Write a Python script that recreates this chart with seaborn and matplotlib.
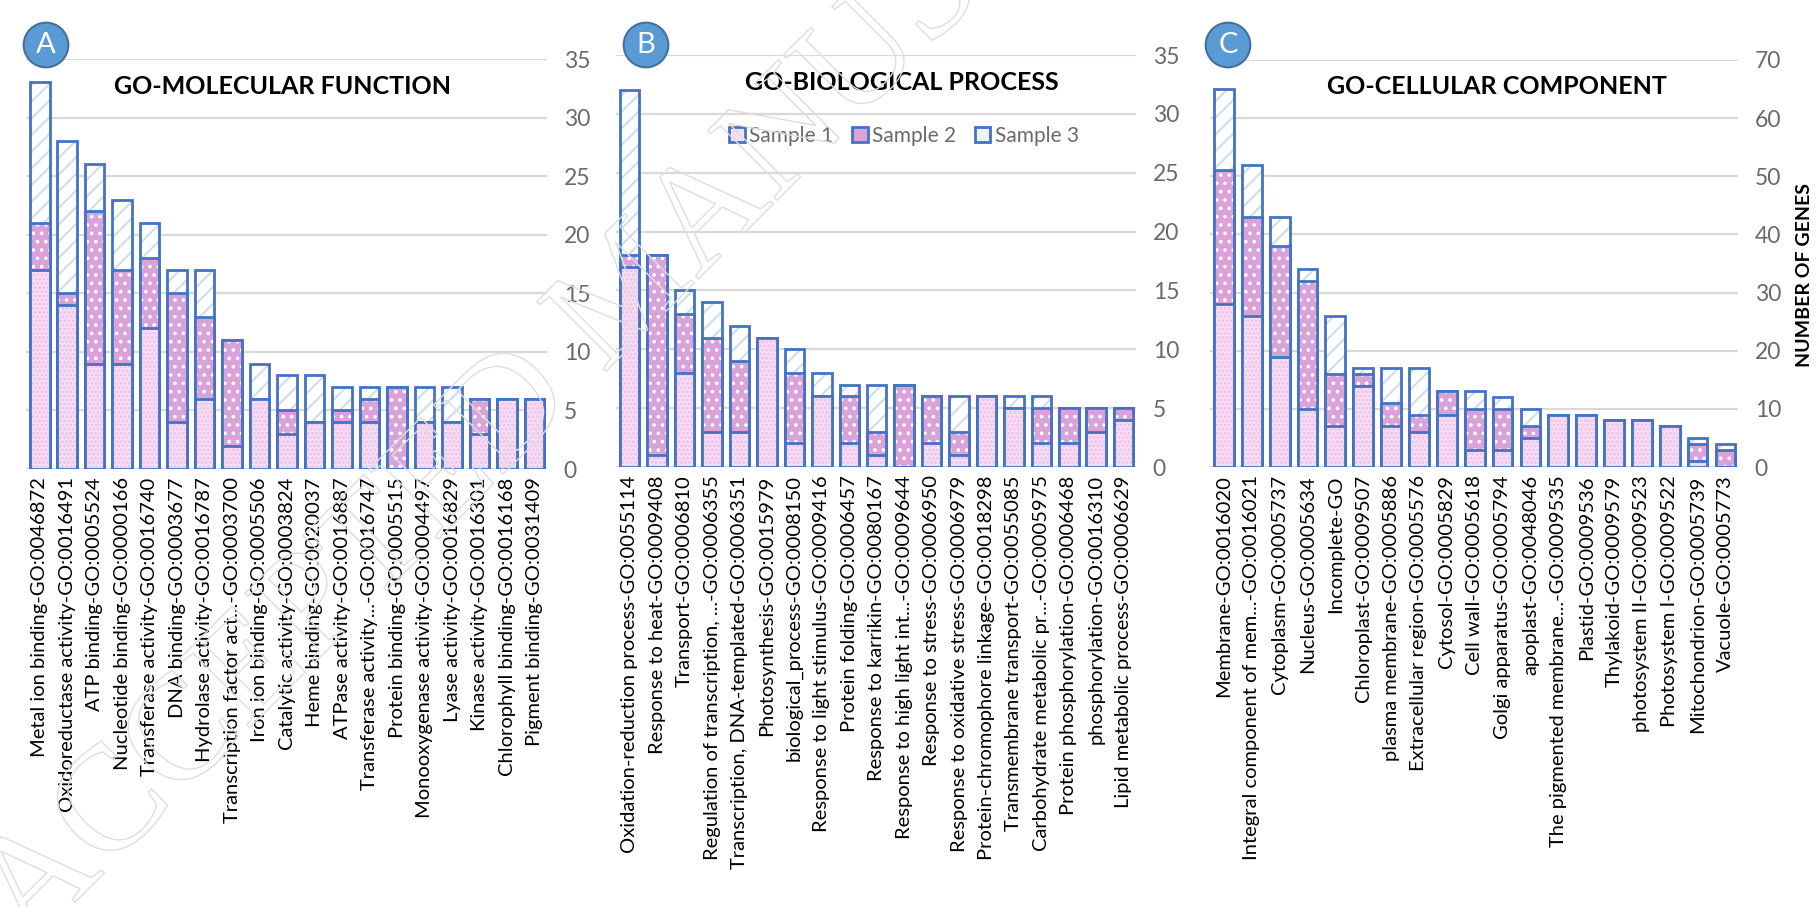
import numpy as np
import pandas as pd
import matplotlib
matplotlib.use("Agg")
import matplotlib.pyplot as plt
import seaborn as sns
from matplotlib.patches import Patch
from matplotlib import patheffects as pe

# ---------------- data ----------------
mf_terms = ["Metal ion binding-GO:0046872", "Oxidoreductase activity-GO:0016491",
            "ATP binding-GO:0005524", "Nucleotide binding-GO:0000166",
            "Transferase activity-GO:0016740", "DNA binding-GO:0003677",
            "Hydrolase activity-GO:0016787", "Transcription factor act...-GO:0003700",
            "Iron ion binding-GO:0005506", "Catalytic activity-GO:0003824",
            "Heme binding-GO:0020037", "ATPase activity-GO:0016887",
            "Transferase activity...-GO:0016747", "Protein binding-GO:0005515",
            "Monooxygenase activity-GO:0004497", "Lyase activity-GO:0016829",
            "Kinase activity-GO:0016301", "Chlorophyll binding-GO:0016168",
            "Pigment binding-GO:0031409"]
mf_s1 = [17, 14, 9, 9, 12, 4, 6, 2, 6, 3, 4, 4, 4, 0, 4, 4, 3, 6, 6]
mf_s2 = [4, 1, 13, 8, 6, 11, 7, 9, 0, 2, 0, 1, 2, 7, 0, 0, 3, 0, 0]
mf_s3 = [12, 13, 4, 6, 3, 2, 4, 0, 3, 3, 4, 2, 1, 0, 3, 3, 0, 0, 0]

bp_terms = ["Oxidation-reduction process-GO:0055114", "Response to heat-GO:0009408",
            "Transport-GO:0006810", "Regulation of transcription, ...-GO:0006355",
            "Transcription, DNA-templated-GO:0006351", "Photosynthesis-GO:0015979",
            "biological_process-GO:0008150", "Response to light stimulus-GO:0009416",
            "Protein folding-GO:0006457", "Response to karrikin-GO:0080167",
            "Response to high light int...-GO:0009644", "Response to stress-GO:0006950",
            "Response to oxidative stress-GO:0006979", "Protein-chromophore linkage-GO:0018298",
            "Transmembrane transport-GO:0055085", "Carbohydrate metabolic pr...-GO:0005975",
            "Protein phosphorylation-GO:0006468", "phosphorylation-GO:0016310",
            "Lipid metabolic process-GO:0006629"]
bp_s1 = [17, 1, 8, 3, 3, 11, 2, 6, 2, 1, 0, 2, 1, 6, 5, 2, 2, 3, 4]
bp_s2 = [1, 17, 5, 8, 6, 0, 6, 0, 4, 2, 7, 4, 2, 0, 0, 3, 3, 2, 1]
bp_s3 = [14, 0, 2, 3, 3, 0, 2, 2, 1, 4, 0, 0, 3, 0, 1, 1, 0, 0, 0]

cc_terms = ["Membrane-GO:0016020", "Integral component of mem...-GO:0016021",
            "Cytoplasm-GO:0005737", "Nucleus-GO:0005634", "Incomplete-GO",
            "Chloroplast-GO:0009507", "plasma membrane-GO:0005886",
            "Extracellular region-GO:0005576", "Cytosol-GO:0005829",
            "Cell wall-GO:0005618", "Golgi apparatus-GO:0005794",
            "apoplast-GO:0048046", "The pigmented membrane...-GO:0009535",
            "Plastid-GO:0009536", "Thylakoid-GO:0009579", "photosystem II-GO:0009523",
            "Photosystem I-GO:0009522", "Mitochondrion-GO:0005739", "Vacuole-GO:0005773"]
cc_s1 = [28, 26, 19, 10, 7, 14, 7, 6, 9, 3, 3, 5, 9, 9, 8, 8, 7, 1, 0]
cc_s2 = [23, 17, 19, 22, 9, 2, 4, 3, 4, 7, 7, 2, 0, 0, 0, 0, 0, 3, 3]
cc_s3 = [14, 9, 5, 2, 10, 1, 6, 8, 0, 3, 2, 3, 0, 0, 0, 0, 0, 1, 1]

series_names = ["Sample 1", "Sample 2", "Sample 3"]

# ---------------- style ----------------
EDGE = "#4472C4"
S1_FILL, S1_DOT = "#F8DDF5", "#EBC2E8"
S2_FILL, S2_DOT = "#D9A3DA", "#FFFFFF"
S3_FILL, S3_LINE = "#FFFFFF", "#C9DDF1"
GRID = "#D9D9D9"
TICK_GRAY = "#6A6A6A"

sns.set_theme(style="white")
plt.rcParams["font.family"] = ["Lato", "DejaVu Sans"]
plt.rcParams["hatch.linewidth"] = 1.4

fig = plt.figure(figsize=(18.18, 9.07), dpi=100)
W, H = 1818.0, 907.0


def add_axes_px(x0, x1, y_top, y_bottom):
    return fig.add_axes([x0 / W, 1 - y_bottom / H, (x1 - x0) / W, (y_bottom - y_top) / H])


def stacked_panel(ax, terms, s1, s2, s3, ymax, ystep):
    s1, s2, s3 = map(np.asarray, (s1, s2, s3))
    layers = [
        (s1 + s2 + s3, S3_FILL, S3_LINE, "//"),
        (s1 + s2, S2_FILL, S2_DOT, ".."),
        (s1, S1_FILL, S1_DOT, "...."),
    ]
    for heights, fill, pattern_color, hatch in layers:
        df = pd.DataFrame({"term": terms, "genes": heights})
        # patterned fill
        n0 = len(ax.patches)
        sns.barplot(data=df, x="term", y="genes", order=terms, color=fill,
                    width=0.71, saturation=1, errorbar=None, ax=ax)
        for p in ax.patches[n0:]:
            p.set_facecolor(fill)
            p.set_edgecolor(pattern_color)
            p.set_hatch(hatch)
            p.set_linewidth(0)
        # blue outline of each segment
        n0 = len(ax.patches)
        sns.barplot(data=df, x="term", y="genes", order=terms, color=fill,
                    width=0.71, saturation=1, errorbar=None, ax=ax)
        for p in ax.patches[n0:]:
            p.set_facecolor("none")
            p.set_edgecolor(EDGE)
            p.set_linewidth(2.0)

    ax.set_ylim(0, ymax)
    ax.set_yticks(np.arange(0, ymax + 1, ystep))
    ax.set_xlim(-0.5, len(terms) - 0.55)
    ax.yaxis.tick_right()
    ax.grid(axis="y", color=GRID, linewidth=1.6)
    ax.set_axisbelow(True)
    for sp in ax.spines.values():
        sp.set_visible(False)
    ax.set_xlabel("")
    ax.set_ylabel("")
    ax.tick_params(axis="y", length=0, pad=12, labelsize=16.5, labelcolor=TICK_GRAY)
    ax.tick_params(axis="x", length=0, pad=6, labelsize=14.5, labelcolor="black")
    for lab in ax.get_xticklabels():
        lab.set_rotation(90)
        lab.set_ha("center")
        lab.set_va("top")


ax_a = add_axes_px(26, 547, 59, 469)
ax_b = add_axes_px(616, 1136, 55, 467)
ax_c = add_axes_px(1210, 1738, 60, 467)

stacked_panel(ax_a, mf_terms, mf_s1, mf_s2, mf_s3, 35, 5)
stacked_panel(ax_b, bp_terms, bp_s1, bp_s2, bp_s3, 35, 5)
stacked_panel(ax_c, cc_terms, cc_s1, cc_s2, cc_s3, 70, 10)

# panel titles
title_kw = dict(ha="center", va="center", fontsize=18, fontweight="bold", color="black")
fig.text(282 / W, 1 - 87 / H, "GO-MOLECULAR FUNCTION", **title_kw)
fig.text(902 / W, 1 - 83 / H, "GO-BIOLOGICAL PROCESS", **title_kw)
fig.text(1497 / W, 1 - 87 / H, "GO-CELLULAR COMPONENT", **title_kw)

# panel letters in blue discs
for x, letter in [(46, "A"), (646, "B"), (1228, "C")]:
    fig.text(x / W, 1 - 45 / H, letter, ha="center", va="center", fontsize=21,
             color="white",
             bbox=dict(boxstyle="circle,pad=0.32", fc="#5B9BD5", ec="#41719C", lw=1.5))

# legend
handles = [
    Patch(facecolor=S1_FILL, edgecolor=EDGE, linewidth=2),
    Patch(facecolor=S2_FILL, edgecolor=EDGE, linewidth=2),
    Patch(facecolor="#EAF2FA", edgecolor=EDGE, linewidth=2),
]
fig.legend(handles, series_names, loc="center", bbox_to_anchor=(904 / W, 1 - 136 / H),
           ncol=3, frameon=False, fontsize=15, handlelength=0.75, handleheight=0.75,
           handletextpad=0.2, columnspacing=0.9, labelcolor=TICK_GRAY)

# shared y-axis title
fig.text(1805 / W, 1 - 275 / H, "NUMBER OF GENES", rotation=90, ha="center", va="center",
         fontsize=14, fontweight="bold", color="black")

# diagonal outlined stamp
fig.text(632 / W, 1 - 294 / H, "ACCEPTED MANUSCRIPT", rotation=45, rotation_mode="anchor",
         ha="center", va="center", fontsize=108, family=["Liberation Serif"],
         color=(1, 1, 1, 0), zorder=20,
         path_effects=[pe.Stroke(linewidth=1.0, foreground="#DEDEDE")])

fig.savefig("out.png", dpi=100)
